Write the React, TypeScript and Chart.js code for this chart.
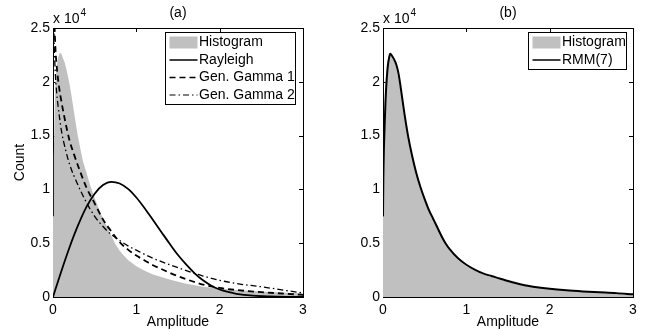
import React, { useEffect, useRef } from "react";
import { Chart, registerables } from "chart.js";

Chart.register(...registerables);

const FONT = "'Liberation Sans', Arial, sans-serif";
const GRAY = "#c0c0c0";

// Histogram of amplitudes (counts)
const histX = [0, 0.01, 0.02, 0.03, 0.045, 0.06, 0.08, 0.1, 0.12, 0.14, 0.16, 0.18, 0.2, 0.22, 0.24, 0.26, 0.28, 0.3, 0.33, 0.36, 0.4, 0.45, 0.5, 0.55, 0.6, 0.65, 0.7, 0.75, 0.8, 0.85, 0.9, 1.0, 1.1, 1.2, 1.3, 1.4, 1.5, 1.6, 1.7, 1.8, 1.9, 2.0, 2.2, 2.4, 2.6, 2.8, 3.0];
const histCount = [7500, 13000, 17500, 20000, 21500, 22200, 22700, 22600, 22200, 21800, 21200, 20500, 19700, 18800, 17800, 16800, 15800, 14900, 13700, 12600, 11600, 10300, 9200, 8200, 7300, 6500, 5700, 4900, 4300, 3850, 3450, 2850, 2450, 2100, 1850, 1620, 1420, 1240, 1090, 960, 860, 780, 650, 550, 460, 390, 320];

// Rayleigh fit
const raylX = [0, 0.1, 0.2, 0.3, 0.4, 0.5, 0.6, 0.7, 0.8, 0.9, 1.0, 1.1, 1.2, 1.3, 1.4, 1.5, 1.6, 1.7, 1.8, 1.9, 2.0, 2.1, 2.2, 2.4, 2.6, 2.8, 3.0];
const raylCount = [0, 2400, 4650, 6650, 8350, 9600, 10400, 10700, 10550, 10050, 9250, 8250, 7150, 6050, 4950, 3900, 3000, 2200, 1550, 1050, 700, 470, 300, 120, 50, 20, 10];

// Generalized Gamma fit 1
const gg1X = [0.012, 0.02, 0.03, 0.05, 0.075, 0.1, 0.15, 0.2, 0.25, 0.3, 0.4, 0.5, 0.6, 0.7, 0.8, 0.9, 1.0, 1.1, 1.2, 1.3, 1.4, 1.6, 1.8, 2.0, 2.2, 2.5, 2.8, 3.0];
const gg1Count = [28000, 25000, 23000, 21000, 19400, 18200, 16200, 14500, 13300, 12200, 10200, 8700, 7200, 6100, 5100, 4400, 3850, 3400, 2950, 2600, 2250, 1650, 1150, 850, 650, 450, 300, 200];

// Generalized Gamma fit 2
const gg2X = [0.005, 0.012, 0.02, 0.03, 0.045, 0.06, 0.08, 0.1, 0.15, 0.2, 0.3, 0.4, 0.5, 0.6, 0.7, 0.8, 0.9, 1.0, 1.2, 1.4, 1.6, 1.8, 2.0, 2.2, 2.5, 2.8, 3.0];
const gg2Count = [27000, 24500, 22200, 20500, 18900, 17800, 16600, 15500, 13700, 12300, 10400, 8800, 7500, 6550, 5800, 5250, 4750, 4350, 3600, 3000, 2450, 1950, 1550, 1250, 950, 600, 370];

// RMM(7) fit
const rmmX = [0, 0.004, 0.01, 0.02, 0.03, 0.045, 0.06, 0.075, 0.085, 0.1, 0.125, 0.15, 0.17, 0.19, 0.21, 0.23, 0.26, 0.3, 0.35, 0.4, 0.45, 0.5, 0.55, 0.6, 0.65, 0.7, 0.75, 0.8, 0.9, 1.0, 1.1, 1.2, 1.3, 1.4, 1.5, 1.6, 1.7, 1.8, 2.0, 2.2, 2.4, 2.6, 2.8, 3.0];
const rmmCount = [7500, 11000, 13500, 16000, 18200, 20300, 21600, 22300, 22600, 22500, 22200, 21800, 21300, 20600, 19600, 18500, 16900, 15000, 13100, 11500, 10200, 9100, 8100, 7300, 6500, 5700, 5000, 4450, 3600, 3000, 2550, 2200, 1950, 1720, 1480, 1270, 1100, 960, 760, 620, 520, 440, 360, 250];

const xTicks = [0, 1, 2, 3];
const yTicks = [0, 5000, 10000, 15000, 20000, 25000];

const pts = (xs: number[], ys: number[]) => xs.map((x, i) => ({ x, y: ys[i] }));

type LegendEntry = { label: string; kind: "patch" | "line"; dash?: number[]; width?: number };

function decorPlugin(title: string, entries: LegendEntry[], legendGap: number) {
  return {
    id: "decor",
    beforeDatasetsDraw(chart: any) {
      const ctx = chart.ctx;
      const { left, right, top, bottom } = chart.chartArea;
      const xs = chart.scales.x;
      const ys = chart.scales.y;
      ctx.save();
      ctx.strokeStyle = "#000";
      ctx.lineWidth = 1;
      ctx.strokeRect(left + 0.5, top + 0.5, right - left, bottom - top);
      ctx.beginPath();
      xTicks.forEach((v) => {
        const p = Math.round(xs.getPixelForValue(v)) + 0.5;
        ctx.moveTo(p, bottom);
        ctx.lineTo(p, bottom - 4);
        ctx.moveTo(p, top);
        ctx.lineTo(p, top + 4);
      });
      yTicks.forEach((v) => {
        const p = Math.round(ys.getPixelForValue(v)) + 0.5;
        ctx.moveTo(left, p);
        ctx.lineTo(left + 4, p);
        ctx.moveTo(right, p);
        ctx.lineTo(right - 4, p);
      });
      ctx.stroke();
      ctx.restore();
    },
    afterDraw(chart: any) {
      const ctx = chart.ctx;
      const { left, right, top } = chart.chartArea;
      ctx.save();
      ctx.fillStyle = "#000";
      ctx.font = `14px ${FONT}`;
      ctx.textBaseline = "middle";
      ctx.textAlign = "center";
      ctx.fillText(title, (left + right) / 2, 13);
      ctx.textAlign = "left";
      const base = "x 10";
      ctx.fillText(base, left, 19);
      const bw = ctx.measureText(base).width;
      ctx.font = `10px ${FONT}`;
      ctx.fillText("4", left + bw + 1, 13);

      // legend
      ctx.font = `14px ${FONT}`;
      const textW = Math.max(...entries.map((e) => ctx.measureText(e.label).width));
      const rowH = 17.5;
      const boxW = Math.round(33.5 + textW + 1);
      const boxH = Math.round(entries.length * rowH + 1.5);
      const bx = Math.round(right - legendGap - boxW) + 0.5;
      const by = Math.round(top + 4) + 0.5;
      ctx.fillStyle = "#fff";
      ctx.fillRect(bx, by, boxW, boxH);
      ctx.strokeStyle = "#000";
      ctx.lineWidth = 1;
      ctx.strokeRect(bx, by, boxW, boxH);
      entries.forEach((e, i) => {
        const cy = by + 10 + i * rowH;
        if (e.kind === "patch") {
          ctx.fillStyle = GRAY;
          ctx.fillRect(bx + 4, cy - 6, 28, 12);
        } else {
          ctx.beginPath();
          ctx.setLineDash(e.dash || []);
          ctx.lineWidth = e.width || 1.5;
          ctx.strokeStyle = "#000";
          ctx.moveTo(bx + 4, cy);
          ctx.lineTo(bx + 32, cy);
          ctx.stroke();
          ctx.setLineDash([]);
        }
        ctx.fillStyle = "#000";
        ctx.fillText(e.label, bx + 33.5, cy);
      });
      ctx.restore();
    },
  };
}

function makeConfig(panel: "a" | "b"): any {
  const font = { family: FONT, size: 14 };
  const hist = {
    data: pts(histX, histCount),
    borderWidth: 0,
    borderColor: GRAY,
    backgroundColor: GRAY,
    fill: "origin",
    pointRadius: 0,
    tension: 0,
    order: 10,
  };
  const line = (xs: number[], ys: number[], dash: number[], width: number) => ({
    data: pts(xs, ys),
    borderColor: "#000",
    borderWidth: width,
    borderDash: dash,
    fill: false,
    pointRadius: 0,
    cubicInterpolationMode: "monotone",
    order: 0,
  });
  const datasets =
    panel === "a"
      ? [
          line(raylX, raylCount, [], 1.8),
          line(gg1X, gg1Count, [6, 4], 1.8),
          line(gg2X, gg2Count, [6, 3, 1.5, 3], 1.3),
          hist,
        ]
      : [line(rmmX, rmmCount, [], 2), hist];
  const entries: LegendEntry[] =
    panel === "a"
      ? [
          { label: "Histogram", kind: "patch" },
          { label: "Rayleigh", kind: "line", width: 1.5 },
          { label: "Gen. Gamma 1", kind: "line", dash: [6, 4], width: 1.5 },
          { label: "Gen. Gamma 2", kind: "line", dash: [6, 3, 1.5, 3], width: 1 },
        ]
      : [
          { label: "Histogram", kind: "patch" },
          { label: "RMM(7)", kind: "line", width: 1.5 },
        ];
  return {
    type: "line",
    data: { datasets },
    plugins: [decorPlugin(panel === "a" ? "(a)" : "(b)", entries, panel === "a" ? 8 : 7)],
    options: {
      animation: false,
      responsive: false,
      devicePixelRatio: 1,
      color: "#000",
      layout: { padding: panel === "a" ? { left: 0, top: 28, right: 20, bottom: 0 } : { left: 7, top: 28, right: 13, bottom: 0 } },
      plugins: { legend: { display: false }, tooltip: { enabled: false }, title: { display: false } },
      scales: {
        x: {
          type: "linear",
          min: 0,
          max: 3,
          afterBuildTicks: (s: any) => {
            s.ticks = xTicks.map((v) => ({ value: v }));
          },
          ticks: { color: "#000", font, padding: 5, maxRotation: 0, autoSkip: false, callback: (v: any) => String(v) },
          grid: { display: false, drawTicks: false },
          border: { display: false },
          title: { display: true, text: "Amplitude", color: "#000", font, padding: { top: 0, bottom: 0 } },
          afterFit: (s: any) => {
            s.height = 34;
          },
        },
        y: {
          type: "linear",
          min: 0,
          max: 25000,
          afterBuildTicks: (s: any) => {
            s.ticks = yTicks.map((v) => ({ value: v }));
          },
          ticks: { color: "#000", font, padding: 3, autoSkip: false, callback: (v: any) => String(v / 10000) },
          grid: { display: false, drawTicks: false },
          border: { display: false },
          title: { display: panel === "a", text: "Count", color: "#000", font, padding: { top: 12, bottom: 0 } },
          afterFit: (s: any) => {
            s.width = 53;
          },
        },
      },
    },
  };
}

function Panel({ panel, left }: { panel: "a" | "b"; left: number }) {
  const ref = useRef<HTMLCanvasElement>(null);
  useEffect(() => {
    if (!ref.current) return;
    const chart = new Chart(ref.current, makeConfig(panel));
    return () => chart.destroy();
  }, [panel]);
  return (
    <canvas
      ref={ref}
      width={323}
      height={331}
      style={{ position: "absolute", left, top: 0, width: 323, height: 331 }}
    />
  );
}

export default function App() {
  return (
    <div style={{ position: "absolute", left: 0, top: 0, width: 646, height: 331, background: "#fff", overflow: "hidden" }}>
      <Panel panel="a" left={0} />
      <Panel panel="b" left={323} />
    </div>
  );
}
